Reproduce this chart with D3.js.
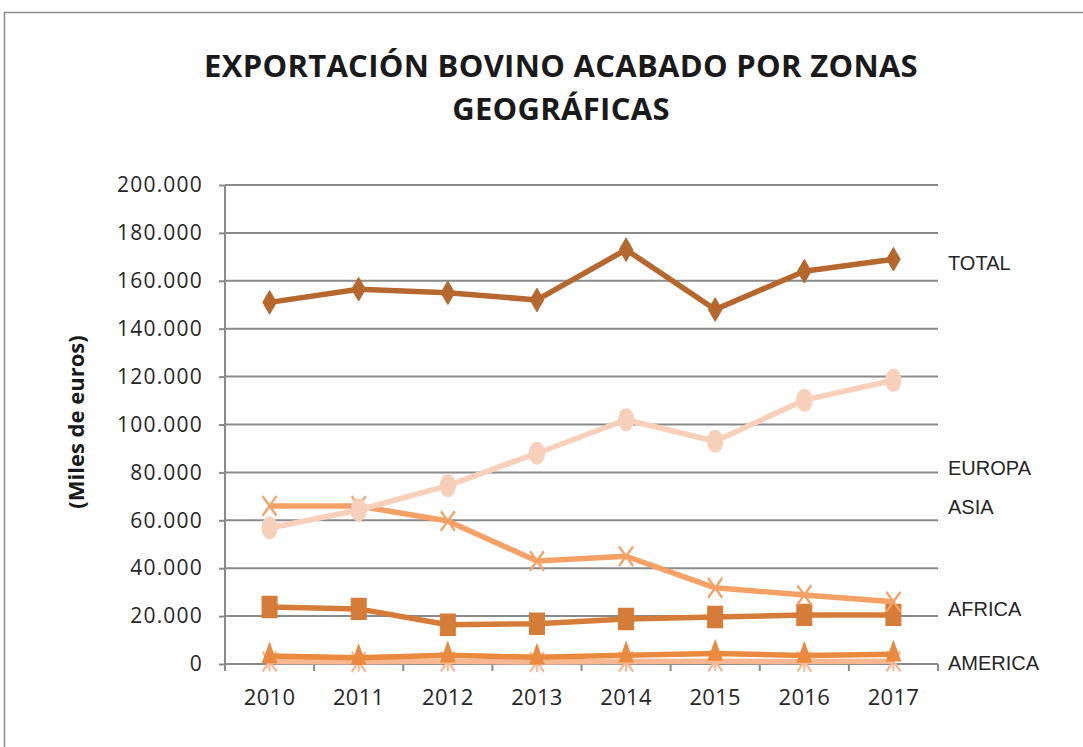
<!DOCTYPE html>
<html>
<head>
<meta charset="utf-8">
<script src="https://cdn.jsdelivr.net/npm/d3@7"></script>
<style>
  body { margin: 0; background: #fff; }
  svg { display: block; }
</style>
</head>
<body>
<svg id="chart" width="1083" height="747"></svg>
<script>
// data (miles de euros)
let years = ["2010", "2011", "2012", "2013", "2014", "2015", "2016", "2017"];
let total   = [151000, 156500, 155000, 152000, 173000, 148000, 164000, 169000];
let europa  = [56800, 64300, 74500, 88000, 102000, 93000, 110200, 118500];
let asia    = [66000, 66000, 59700, 43000, 45000, 31800, 28800, 26000];
let africa  = [23800, 23000, 16400, 16800, 18800, 19600, 20500, 20500];
let america = [3300, 2600, 3700, 2800, 3700, 4400, 3600, 4100];
let otros   = [1000, 900, 1100, 800, 1000, 1200, 1000, 1100];
let yTicks  = [0, 20000, 40000, 60000, 80000, 100000, 120000, 140000, 160000, 180000, 200000];
// where the name labels sit on the right, in axis units
let labelNames  = ["TOTAL", "EUROPA", "ASIA", "AFRICA", "AMERICA"];
let labelValues = [167500, 82000, 65500, 23000, 500];

let svg = d3.select("#chart");

// outer frame
svg.append("rect")
    .attr("x", 4.5).attr("y", 12.5)
    .attr("width", 1100).attr("height", 760)
    .attr("fill", "none").attr("stroke", "#8c8c8c").attr("stroke-width", 1.5);

let plotLeft = 225, plotRight = 938, plotTop = 185, plotBottom = 664;

let xScale = d3.scaleBand().domain(years).range([plotLeft, plotRight]);
let yScale = d3.scaleLinear().domain([0, 200000]).range([plotBottom, plotTop]);

let fmt = d => d === 0 ? "0" : d3.format(",")(d).replace(/,/g, ".");

// gridlines
svg.append("g")
    .selectAll("line")
    .data(yTicks.filter(d => d > 0))
    .enter()
    .append("line")
    .attr("x1", plotLeft).attr("x2", plotRight)
    .attr("y1", d => yScale(d)).attr("y2", d => yScale(d))
    .attr("stroke", "#8a8a8a").attr("stroke-width", 2);

// y axis
let yAxis = d3.axisLeft(yScale).tickValues(yTicks).tickFormat(fmt).tickSize(6).tickPadding(16);
let gy = svg.append("g")
    .attr("transform", "translate(" + plotLeft + ",0)")
    .call(yAxis);
gy.select(".domain").attr("stroke", "#8a8a8a").attr("stroke-width", 2).attr("d", "M0," + plotTop + "V" + plotBottom);
gy.selectAll(".tick line").attr("stroke", "#8a8a8a").attr("stroke-width", 2);
gy.selectAll("text")
    .attr("font-family", "Open Sans").attr("font-size", 21).attr("letter-spacing", 1.2).attr("fill", "#262626");

// x axis
let xAxis = d3.axisBottom(xScale).tickSize(0).tickPadding(25);
let gx = svg.append("g")
    .attr("transform", "translate(0," + plotBottom + ")")
    .call(xAxis);
gx.select(".domain").attr("stroke", "#8a8a8a").attr("stroke-width", 2).attr("d", "M" + plotLeft + ",0H" + plotRight);
gx.selectAll("text")
    .attr("font-family", "Open Sans").attr("font-size", 22).attr("letter-spacing", 0.3).attr("fill", "#262626");
// category boundary ticks
gx.append("g")
    .selectAll("line")
    .data(years.concat(["end"]))
    .enter()
    .append("line")
    .attr("x1", (d, i) => plotLeft + i * xScale.step())
    .attr("x2", (d, i) => plotLeft + i * xScale.step())
    .attr("y1", 0).attr("y2", 7)
    .attr("stroke", "#8a8a8a").attr("stroke-width", 2);

let cx = (d, i) => xScale(years[i]) + xScale.bandwidth() / 2;
let line = d3.line().x(cx).y(d => yScale(d));

// custom symbol types for the cross and the asterisk
let crossType = {
    draw: function(ctx, size) {
        let r = Math.sqrt(size) / 2;
        ctx.moveTo(-r, -r); ctx.lineTo(r, r);
        ctx.moveTo(-r, r); ctx.lineTo(r, -r);
    }
};
let starType = {
    draw: function(ctx, size) {
        let r = Math.sqrt(size) / 2;
        ctx.moveTo(-r, -r); ctx.lineTo(r, r);
        ctx.moveTo(-r, r); ctx.lineTo(r, -r);
        ctx.moveTo(0, -r); ctx.lineTo(0, r);
    }
};

let series = [
    { name: "otros",   values: otros,   color: "#f8b791", marker: "star" },
    { name: "america", values: america, color: "#e98a3f", marker: "triangle" },
    { name: "africa",  values: africa,  color: "#d47c38", marker: "square" },
    { name: "asia",    values: asia,    color: "#f5a166", marker: "x" },
    { name: "europa",  values: europa,  color: "#f8cfb9", marker: "circle" },
    { name: "total",   values: total,   color: "#b5672d", marker: "diamond" }
];

let symbols = {
    star:     { gen: d3.symbol().type(starType).size(196), sy: 1.4 },
    triangle: { gen: d3.symbol().type(d3.symbolTriangle).size(85), sy: 1.6 },
    square:   { gen: d3.symbol().type(d3.symbolSquare).size(225), sy: 1.4 },
    x:        { gen: d3.symbol().type(crossType).size(196), sy: 1.4 },
    circle:   { gen: d3.symbol().type(d3.symbolCircle).size(185), sy: 1.4 },
    diamond:  { gen: d3.symbol().type(d3.symbolDiamond).size(160), sy: 1 }
};

series.forEach(function(s) {
    let g = svg.append("g");
    g.append("path")
        .datum(s.values)
        .attr("d", line)
        .attr("fill", "none")
        .attr("stroke", s.color)
        .attr("stroke-width", 5.5)
        .attr("stroke-linejoin", "round");
    let strokeOnly = (s.marker === "x" || s.marker === "star");
    let sym = symbols[s.marker];
    g.selectAll(".m")
        .data(s.values)
        .enter()
        .append("path")
        .attr("transform", (d, i) => "translate(" + cx(d, i) + "," + yScale(d) + ") scale(1," + sym.sy + ")")
        .attr("d", sym.gen())
        .attr("fill", strokeOnly ? "none" : s.color)
        .attr("stroke", s.color)
        .attr("stroke-width", strokeOnly ? 2 : 1);
});

// series names on the right
svg.append("g")
    .selectAll("text")
    .data(labelNames)
    .enter()
    .append("text")
    .attr("x", 948)
    .attr("y", (d, i) => yScale(labelValues[i]))
    .attr("dy", "0.35em")
    .attr("font-family", "Liberation Sans").attr("font-size", 20).attr("fill", "#262626")
    .text(d => d);

// title
let titleLines = ["EXPORTACIÓN BOVINO ACABADO POR ZONAS", "GEOGRÁFICAS"];
svg.append("g")
    .selectAll("text")
    .data(titleLines)
    .enter()
    .append("text")
    .attr("x", 561)
    .attr("y", (d, i) => 77 + i * 43)
    .attr("text-anchor", "middle")
    .attr("font-family", "Open Sans").attr("font-weight", "bold").attr("font-size", 31)
    .attr("letter-spacing", 0.3).attr("fill", "#1a1a1a")
    .text(d => d);

// y axis title
svg.append("text")
    .attr("transform", "translate(84,422) rotate(-90)")
    .attr("text-anchor", "middle")
    .attr("font-family", "Open Sans").attr("font-weight", "bold").attr("font-size", 22).attr("fill", "#1a1a1a")
    .text("(Miles de euros)");
</script>
</body>
</html>
